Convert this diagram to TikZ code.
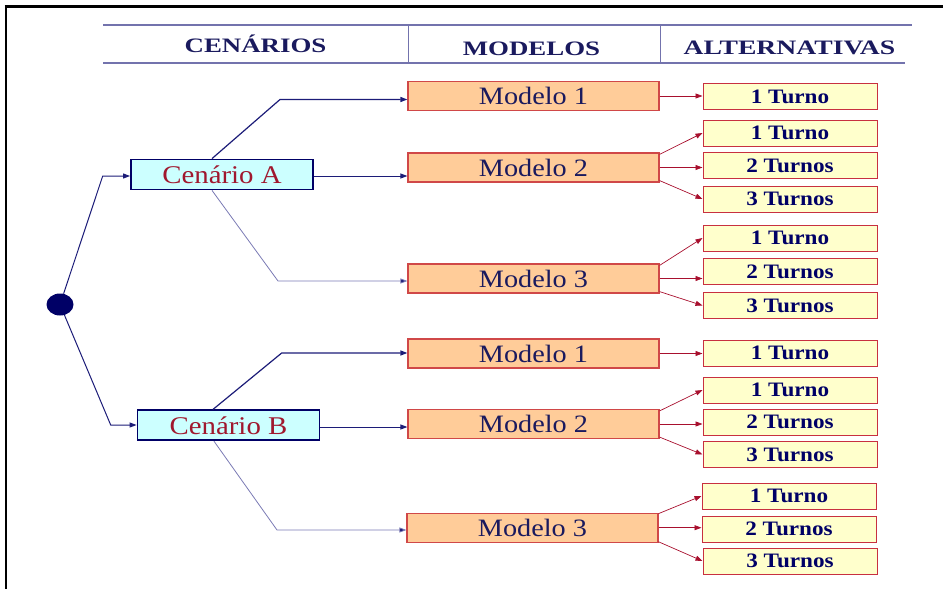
\documentclass[tikz,border=0pt]{standalone}
\usepackage{fontspec}
\setmainfont{Liberation Serif}
\newfontfamily\bodyfont{Liberation Serif}[FakeStretch=1.13]
\newfontfamily\headfont{Liberation Serif}[FakeStretch=1.31]
\usetikzlibrary{arrows.meta,shapes.geometric}

\definecolor{navy}{HTML}{000066}
\definecolor{linenavy}{HTML}{1C1C78}
\definecolor{lightnavy}{HTML}{7A7AB4}
\definecolor{headblue}{HTML}{1A1A5E}
\definecolor{rulecol}{HTML}{7373AD}
\definecolor{modfill}{HTML}{FFCC99}
\definecolor{modline}{HTML}{D04848}
\definecolor{turfill}{HTML}{FFFFCC}
\definecolor{turline}{HTML}{C83040}
\definecolor{cenfill}{HTML}{CCFFFF}
\definecolor{centext}{HTML}{A0182E}
\definecolor{arrred}{HTML}{A8102E}

\tikzset{
  hdr/.style={font=\headfont\bfseries\fontsize{20.5}{21}\selectfont, text=headblue, inner sep=0pt},
  modbox/.style={draw=modline, fill=modfill, line width=1.2pt, minimum width=251pt,
    minimum height=29pt, inner sep=0pt, text=headblue,
    font=\bodyfont\fontsize{25}{25}\selectfont},
  turbox/.style={draw=turline, fill=turfill, line width=1pt, minimum width=174pt,
    minimum height=26pt, inner sep=0pt, text=navy,
    font=\bodyfont\bfseries\fontsize{20.5}{20.5}\selectfont},
  cenbox/.style={draw=navy, fill=cenfill, line width=1.8pt, minimum width=182pt,
    minimum height=30pt, inner sep=0pt, text=centext,
    font=\bodyfont\fontsize{25.5}{26}\selectfont},
  branch/.style={draw=linenavy, line width=1pt, -{Triangle[length=7pt,width=5pt]}},
  lowbranch/.style={draw=lightnavy, line width=0.8pt, -{Triangle[length=7pt,width=5pt,fill=linenavy]}},
  redarrow/.style={draw=arrred, line width=0.7pt, -{Triangle[length=7pt,width=5pt]}},
}

\begin{document}
\begin{tikzpicture}[x=1pt,y=-1pt]
\useasboundingbox (0,0) rectangle (943,589);

% outer frame (top and left edges)
\draw[line width=3pt] (4.5,6.5) -- (943,6.5);
\draw[line width=2pt] (5.7,5) -- (5.7,589);

% column header
\draw[rulecol, line width=1.2pt] (103,25) -- (912,25);
\draw[rulecol, line width=1.2pt] (103,63) -- (905,63);
\draw[rulecol, line width=1pt] (408,25) -- (408,63);
\draw[rulecol, line width=1pt] (660,25) -- (660,63);
\node[hdr, anchor=base] (h1) at (255.5,52) {CENÁRIOS};
\node[hdr, anchor=base] (h2) at (531.5,55) {MODELOS};
\node[hdr, anchor=base, xscale=1.03] (h3) at (789.5,54) {ALTERNATIVAS};

% root
\node[ellipse, fill=navy, minimum width=27pt, minimum height=22pt, inner sep=0pt] (root) at (60,304.5) {};

% scenarios
\node[cenbox] (ca) at (222,174.5) {Cenário A};
\node[cenbox] (cb) at (228.5,425.3) {Cenário B};

% models
\node[modbox] (ma1) at (533.5,96)    {Modelo 1};
\node[modbox] (ma2) at (533.5,167.5) {Modelo 2};
\node[modbox] (ma3) at (533.5,278.5) {Modelo 3};
\node[modbox] (mb1) at (533.5,353.5) {Modelo 1};
\node[modbox] (mb2) at (533.5,424)   {Modelo 2};
\node[modbox] (mb3) at (532.5,527.7) {Modelo 3};

% alternatives
\node[turbox] (ta1)  at (790,96.5)  {1 Turno};
\node[turbox] (ta21) at (790,133)   {1 Turno};
\node[turbox] (ta22) at (790,165.5) {2 Turnos};
\node[turbox] (ta23) at (790,199)   {3 Turnos};
\node[turbox] (ta31) at (790,238)   {1 Turno};
\node[turbox] (ta32) at (790,271.7) {2 Turnos};
\node[turbox] (ta33) at (790,305.5) {3 Turnos};
\node[turbox] (tb1)  at (790,353)   {1 Turno};
\node[turbox] (tb21) at (790,390)   {1 Turno};
\node[turbox] (tb22) at (790,422)   {2 Turnos};
\node[turbox] (tb23) at (790,454.5) {3 Turnos};
\node[turbox] (tb31) at (789,496)   {1 Turno};
\node[turbox] (tb32) at (789,529)   {2 Turnos};
\node[turbox] (tb33) at (790,561)   {3 Turnos};

% bend points
\coordinate (kA)  at (102.7,176);
\coordinate (kB)  at (110.7,425);
\coordinate (ka1) at (280,99.5);
\coordinate (ka3) at (278,281);
\coordinate (kb1) at (281.7,353);
\coordinate (kb3) at (277,530);
\path (ca.east) ++(0,1.5) coordinate (ea);
\path (cb.east) ++(0,1.7) coordinate (eb);

% root to scenarios
\draw[branch] (root) -- (kA) -- (kA -| ca.west);
\draw[branch] (root) -- (kB) -- (kB -| cb.west);

% scenario A to models
\draw[branch, line width=1.2pt] ([xshift=-10pt]ca.north) -- (ka1) -- (ka1 -| ma1.west);
\draw[branch] (ea) -- (ea -| ma2.west);
\draw[lowbranch] ([xshift=-10pt]ca.south) -- (ka3) -- (ka3 -| ma3.west);

% scenario B to models
\draw[branch, line width=1.2pt] ([xshift=-15.5pt]cb.north) -- (kb1) -- (kb1 -| mb1.west);
\draw[branch] (eb) -- (eb -| mb2.west);
\draw[lowbranch] ([xshift=-14.5pt]cb.south) -- (kb3) -- (kb3 -| mb3.west);

% models to alternatives
\draw[redarrow] (ma1.east) -- (ma1.east -| ta1.west);
\draw[redarrow] ([yshift=-2pt]ma2.north east) -- (ta21.west);
\draw[redarrow] (ma2.east) -- (ma2.east -| ta22.west);
\draw[redarrow] ([yshift=2pt]ma2.south east) -- (ta23.west);
\draw[redarrow] ([yshift=-2pt]ma3.north east) -- (ta31.west);
\draw[redarrow] (ma3.east) -- (ma3.east -| ta32.west);
\draw[redarrow] ([yshift=2pt]ma3.south east) -- (ta33.west);
\draw[redarrow] (mb1.east) -- (mb1.east -| tb1.west);
\draw[redarrow] ([yshift=-2pt]mb2.north east) -- (tb21.west);
\draw[redarrow] (mb2.east) -- (mb2.east -| tb22.west);
\draw[redarrow] ([yshift=2pt]mb2.south east) -- (tb23.west);
\draw[redarrow] ([yshift=-1pt]mb3.north east) -- (tb31.west);
\draw[redarrow] (mb3.east) -- (mb3.east -| tb32.west);
\draw[redarrow] ([yshift=1pt]mb3.south east) -- (tb33.west);
\end{tikzpicture}
\end{document}
